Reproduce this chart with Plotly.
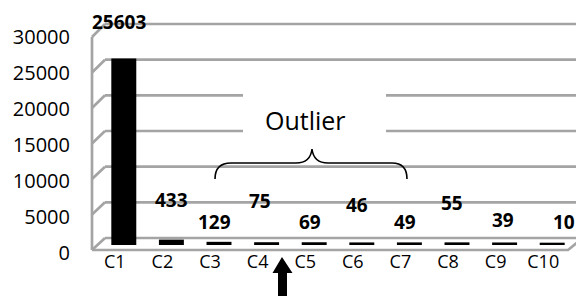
import plotly.graph_objects as go

# ---- data ----
categories = ["C1", "C2", "C3", "C4", "C5", "C6", "C7", "C8", "C9", "C10"]
values = [25603, 433, 129, 75, 69, 46, 49, 55, 39, 10]
y_ticks = [0, 5000, 10000, 15000, 20000, 25000, 30000]
y_max = 30000

# ---- label style offsets (px) ----
label_yshift = [39, 42, 22, 43, 23, 40, 23, 42, 25, 23]
label_xshift = [-5, 0, -5, -7, -4, -5, -4, -5, -2, 12]

W, H = 584, 296
OFF = 8  # page body margin
ML, MR, MT, MB = 92, 16, 21, 59
PW = W - ML - MR
PH = H - MT - MB
FONT = "Open Sans"


def pxx(px):
    return (px - OFF - ML) / PW


def pxy(py):
    return (MT + PH - (py - OFF)) / PH


# perspective decoration helpers (front / back wall pixel positions)
def front_py(v):
    return 250 - v / y_max * 213


def back_py(v):
    return 238 - v / y_max * 214


fig = go.Figure()
fig.add_trace(go.Bar(
    x=categories, y=values,
    marker=dict(color="black", line=dict(color="black", width=4.5)),
    width=0.43, hoverinfo="skip",
))

shapes = []
grid_style = dict(color="#a4a4a4", width=2.7)
X_FRONT, X_BACK, X_RIGHT = 92, 105, 590
for v in y_ticks:
    shapes.append(dict(type="line", xref="paper", yref="paper", layer="below",
                       x0=pxx(X_BACK), x1=pxx(X_RIGHT), y0=pxy(back_py(v)), y1=pxy(back_py(v)),
                       line=grid_style))
    shapes.append(dict(type="line", xref="paper", yref="paper", layer="below",
                       x0=pxx(X_FRONT), x1=pxx(X_BACK), y0=pxy(front_py(v)), y1=pxy(back_py(v)),
                       line=grid_style))
# left wall front edge
shapes.append(dict(type="line", xref="paper", yref="paper", layer="below",
                   x0=pxx(X_FRONT), x1=pxx(X_FRONT), y0=pxy(front_py(0)), y1=pxy(front_py(y_max)),
                   line=grid_style))
# floor front edge + right edge
shapes.append(dict(type="path", xref="paper", yref="paper", layer="below",
                   path=f"M {pxx(X_FRONT)},{pxy(front_py(0))} L {pxx(568)},{pxy(front_py(0))} L {pxx(583)},{pxy(back_py(0))}",
                   line=grid_style))
# white box behind "Outlier"
shapes.append(dict(type="rect", xref="paper", yref="paper", layer="below",
                   x0=pxx(243), x1=pxx(386), y0=pxy(136), y1=pxy(92),
                   fillcolor="white", line=dict(width=0)))


# curly brace
def P(x, y):
    return f"{pxx(x):.5f},{pxy(y):.5f}"


brace = (f"M {P(215,179)} C {P(215,170)} {P(219,163)} {P(231,163)} "
         f"L {P(296,163)} C {P(306,163)} {P(311,158)} {P(312,149)} "
         f"C {P(313,158)} {P(318,163)} {P(328,163)} "
         f"L {P(392,163)} C {P(403,163)} {P(407,170)} {P(407,179)}")
shapes.append(dict(type="path", xref="paper", yref="paper", layer="above",
                   path=brace, line=dict(color="black", width=1.6)))

# up arrow below axis
arrow = (f"M {P(282,257)} L {P(292.5,273)} L {P(287,273)} L {P(287,300)} "
         f"L {P(278,300)} L {P(278,273)} L {P(272.5,273)} Z")
shapes.append(dict(type="path", xref="paper", yref="paper", layer="above",
                   path=arrow, fillcolor="black", line=dict(color="black", width=0)))

annotations = []
for c, v, ys, xs in zip(categories, values, label_yshift, label_xshift):
    annotations.append(dict(x=c, y=v, xref="x", yref="y", text=f"<b>{v}</b>",
                            showarrow=False, yshift=ys, xshift=xs,
                            font=dict(family=FONT, size=19, color="black")))
annotations.append(dict(x=pxx(305), y=pxy(120), xref="paper", yref="paper",
                        text="Outlier", showarrow=False,
                        font=dict(family=FONT, size=25, color="black")))

fig.update_layout(
    width=W, height=H,
    margin=dict(l=ML, r=MR, t=MT, b=MB),
    paper_bgcolor="white", plot_bgcolor="white",
    showlegend=False,
    shapes=shapes, annotations=annotations,
    font=dict(family=FONT, color="black"),
    xaxis=dict(range=[-0.5, len(categories) - 0.5], showgrid=False, zeroline=False,
               showline=False, ticks="", automargin=False,
               tickfont=dict(family=FONT, size=18, color="black"),
               ticklabelshift=-9, ticklabelstandoff=4),
    yaxis=dict(range=[0, y_max], tickvals=y_ticks, tickformat="d",
               showgrid=False, zeroline=False, automargin=False,
               showline=False, ticks="",
               tickfont=dict(family=FONT, size=20, color="black"),
               ticklabelshift=8, ticklabelstandoff=29),
)

fig.write_html("out.html")
